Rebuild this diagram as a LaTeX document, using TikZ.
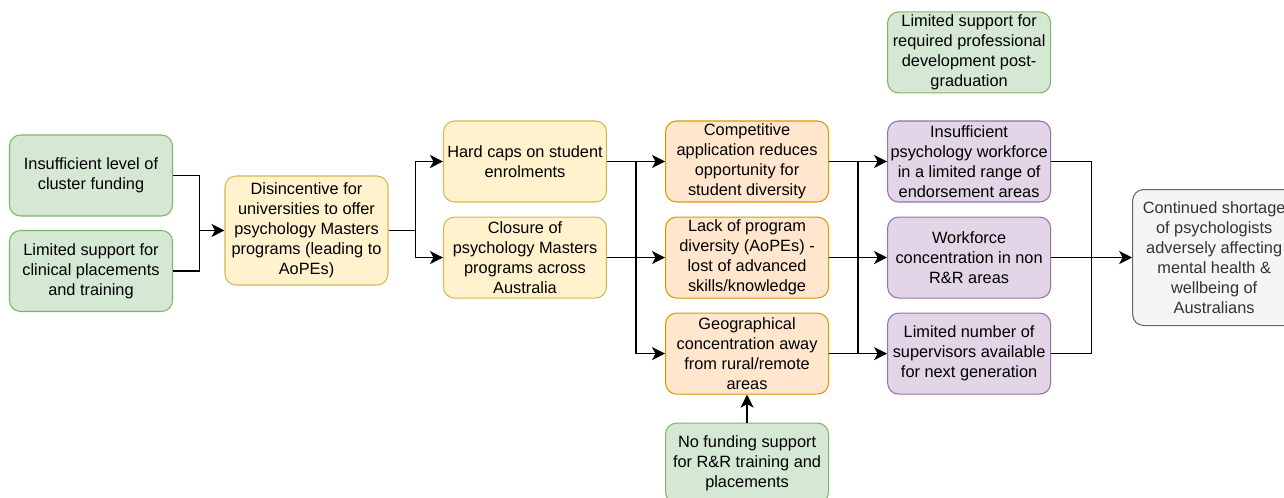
\documentclass[tikz,border=0pt]{standalone}
\usepackage{fontspec}
\setmainfont{Liberation Sans}
\usepackage{xcolor}
\usetikzlibrary{arrows.meta, positioning}

\definecolor{grnfill}{HTML}{D5E8D4}
\definecolor{grndraw}{HTML}{82B366}
\definecolor{yelfill}{HTML}{FFF2CC}
\definecolor{yeldraw}{HTML}{D6B656}
\definecolor{orgfill}{HTML}{FFE6CC}
\definecolor{orgdraw}{HTML}{D79B00}
\definecolor{purfill}{HTML}{E1D5E7}
\definecolor{purdraw}{HTML}{9673A6}
\definecolor{gryfill}{HTML}{F5F5F5}
\definecolor{grydraw}{HTML}{666666}
\definecolor{grytext}{HTML}{333333}

\begin{document}
\begin{tikzpicture}[
    node distance = 0.28cm,
    box/.style    = {rectangle, rounded corners=0.22cm,
                     line width=0.6pt,
                     minimum width=3.26cm, minimum height=1.62cm,
                     inner sep=1pt, align=center,
                     font=\fontsize{9.3}{11.4}\selectfont},
    causebox/.style  = {box, draw=grndraw, fill=grnfill},
    policybox/.style = {box, draw=yeldraw, fill=yelfill},
    effectbox/.style = {box, draw=orgdraw, fill=orgfill},
    workbox/.style   = {box, draw=purdraw, fill=purfill},
    outbox/.style    = {box, draw=grydraw, fill=gryfill,
                        text=grytext, minimum height=2.72cm},
    arrow/.style  = {-{Stealth[length=2.6mm, width=2.6mm, inset=0.7mm]},
                     line width=0.7pt},
    line/.style   = {line width=0.7pt}
]
\useasboundingbox (0,0) rectangle (25.68,9.96);

%% Funding causes
\node[causebox] (fund1) at (1.82,6.45)
    {Insufficient level of\\ cluster funding};
\node[causebox] (fund2) at (1.82,4.54)
    {Limited support for\\ clinical placements\\ and training};

%% Universities
\node[policybox, minimum height=2.18cm] (disinc) at (6.13,5.35)
    {Disincentive for\\ universities to offer\\ psychology Masters\\
     programs (leading to\\ AoPEs)};

%% Programs
\node[policybox] (caps) at (10.5,6.73)
    {Hard caps on student\\ enrolments};
\node[policybox, below=of caps] (closure)
    {Closure of\\ psychology Masters\\ programs across\\ Australia};

%% Effects on students
\node[effectbox, right=1.16cm of caps] (comp)
    {Competitive\\ application reduces\\ opportunity for\\
     student diversity};
\node[effectbox, below=of comp] (lack)
    {Lack of program\\ diversity (AoPEs) -\\ lost of advanced\\
     skills/knowledge};
\node[effectbox, below=of lack] (geo)
    {Geographical\\ concentration away\\ from rural/remote\\ areas};
\node[causebox, below=0.56cm of geo, minimum height=1.6cm] (rural)
    {No funding support\\ for R\&R training and\\ placements};

%% Workforce
\node[workbox, right=1.16cm of comp] (insuff)
    {Insufficient\\ psychology workforce\\ in a limited range of\\
     endorsement areas};
\node[workbox, below=of insuff] (wfconc)
    {Workforce\\ concentration in non\\ R\&R areas};
\node[workbox, below=of wfconc] (superv)
    {Limited number of\\ supervisors available\\ for next generation};
\node[causebox, above=0.54cm of insuff] (postgrad)
    {Limited support for\\ required professional\\ development post-\\
     graduation};

%% Outcome
\node[outbox, right=1.62cm of wfconc] (short)
    {Continued shortage\\ of psychologists\\ adversely affecting\\
     mental health \&\\ wellbeing of\\ Australians};

%% Junctions
\coordinate (j1) at ([xshift=-0.5cm]disinc.west);
\coordinate (j2) at ([xshift=0.54cm]disinc.east);
\coordinate (j3) at ([xshift=0.58cm]caps.east);
\coordinate (j4) at ([xshift=0.58cm]geo.east);
\coordinate (j5) at ([xshift=0.8cm]wfconc.east);

%% Arrows
\draw[line]  (fund1.east) -| (j1);
\draw[line]  (fund2.east) -| (j1);
\draw[arrow] (j1) -- (disinc.west);
\draw[arrow] (disinc.east) -- (j2) |- (caps.west);
\draw[arrow] (j2) |- (closure.west);
\draw[arrow] (caps.east)    -- (comp.west);
\draw[arrow] (j3) |- (geo.west);
\draw[arrow] (closure.east) -- (lack.west);
\draw[arrow] (rural) -- (geo);
\draw[arrow] (comp.east)    -- (insuff.west);
\draw[arrow] (lack.east)    -- (wfconc.west);
\draw[arrow] (geo.east)     -- (superv.west);
\draw[line]  (j4) |- (insuff.west);
\draw[line]  (insuff.east) -| (j5) |- (superv.east);
\draw[arrow] (wfconc.east) -- (short.west);
\end{tikzpicture}
\end{document}
